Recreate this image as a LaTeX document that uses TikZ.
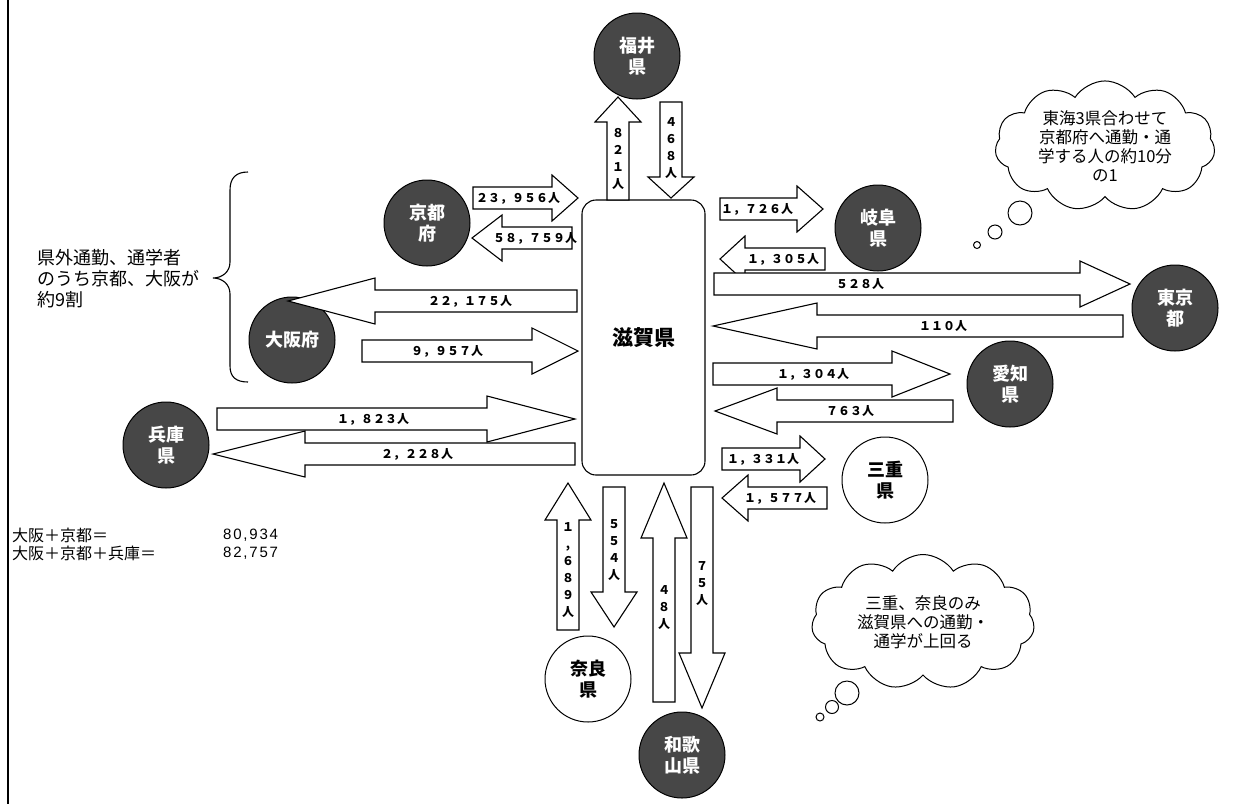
\documentclass[tikz,border=0pt]{standalone}
\usepackage{fontspec}
\setmainfont{Noto Sans CJK JP}
\newfontfamily\numfont[LetterSpace=12]{Liberation Sans}
\usetikzlibrary{shapes.symbols}

\def\shaft{11}   % half width of an arrow body
\def\headw{23}   % half width of an arrow head

% horizontal flow: tail x, head base x, tip x, centre y, label x, label, name
\newcommand{\flowh}[7]{%
  \draw[flow] (#1,#4-\shaft) -- (#2,#4-\shaft) -- (#2,#4-\headw) -- (#3,#4)
    -- (#2,#4+\headw) -- (#2,#4+\shaft) -- (#1,#4+\shaft) -- cycle;
  \node[lbl] (#7) at (#5,#4) {#6};}

% vertical flow: centre x, tail y, head base y, tip y, label y, label, name
\newcommand{\flowv}[7]{%
  \draw[flow] (#1-\shaft,#2) -- (#1-\shaft,#3) -- (#1-\headw,#3) -- (#1,#4)
    -- (#1+\headw,#3) -- (#1+\shaft,#3) -- (#1+\shaft,#2) -- cycle;
  \node[vlbl] (#7) at (#1,#5) {#6};}

\begin{document}
\begin{tikzpicture}[
  x=1pt, y=-1pt,
  pref/.style={circle, draw, line width=1pt, minimum size=86pt, inner sep=0pt,
    fill=black!72, text=white, align=center, font=\fontsize{18}{21}\selectfont\bfseries},
  prefw/.style={pref, fill=white, text=black},
  flow/.style={draw, line width=1.1pt, fill=white, line join=miter},
  lbl/.style={inner sep=0pt, font=\fontsize{12}{12}\selectfont\bfseries},
  vlbl/.style={lbl, align=center, font=\fontsize{12}{17}\selectfont\bfseries},
  note/.style={inner sep=0pt, align=left, font=\fontsize{18}{21}\selectfont},
  think/.style={cloud, draw, line width=1pt, fill=white, cloud puffs=11,
    cloud puff arc=115, aspect=1.8, inner sep=0pt, align=center,
    font=\fontsize{16.5}{19}\selectfont},
  bub/.style={draw, line width=1pt, fill=white},
]
\useasboundingbox (0,0) rectangle (1248,804);

% left margin line
\draw[line width=1.2pt] (8,0) -- (8,804);

% Shiga
\node[draw, line width=1.1pt, rounded corners=14pt, minimum width=123pt,
  minimum height=275pt, font=\fontsize{21}{21}\selectfont\bfseries] (shiga) at (643.5,337.5) {滋賀県};

% prefectures
\node[pref] (fukui) at (637,56) {福井\\県};
\node[pref] (kyoto) at (427,223) {京都\\府};
\node[pref] (osaka) at (292,340) {大阪府};
\node[pref] (hyogo) at (166,445) {兵庫\\県};
\node[pref] (gifu) at (878,228) {岐阜\\県};
\node[pref] (tokyo) at (1175,308) {東京\\都};
\node[pref] (aichi) at (1010,384) {愛知\\県};
\node[pref] (wakayama) at (682,755) {和歌\\山県};
\node[prefw] (mie) at (885,480) {三重\\県};
\node[prefw] (nara) at (588,679) {奈良\\県};

% ── flows west ──
\flowh{473}{552}{578}{198}{518}{２３，９５６人}{kyoOut}
\flowh{572}{502}{472}{238}{535}{５８，７５９人}{kyoIn}
\flowh{577}{375}{288}{301}{470}{２２，１７５人}{osaIn}
\flowh{362}{532}{578}{351}{447}{９，９５７人}{osaOut}
\flowh{217}{487}{575}{419}{373}{１，８２３人}{hyoOut}
\flowh{575}{305}{213}{454}{417}{２，２２８人}{hyoIn}

% ── flows east ──
\flowh{720}{797}{823}{209}{757}{１，７２６人}{gifOut}
\flowh{825}{745}{720}{259}{783}{１，３０５人}{gifIn}
\flowh{714}{1080}{1130}{284}{860}{５２８人}{tokOut}
\flowh{1123}{817}{713}{326}{943}{１１０人}{tokIn}
\flowh{713}{892}{950}{374}{813}{１，３０４人}{aicOut}
\flowh{953}{777}{715}{411}{850}{７６３人}{aicIn}
\flowh{722}{800}{825}{459}{763}{１，３３１人}{mieOut}
\flowh{827}{748}{722}{498}{780}{１，５７７人}{mieIn}

% ── flows north and south ──
\flowv{618}{200}{122}{97}{159}{８\\２\\１\\人}{fukOut}
\flowv{671}{102}{177}{198}{148}{４\\６\\８\\人}{fukIn}
\flowv{568}{630}{520}{483}{570}{１\\,\\６\\８\\９\\人}{narIn}
\flowv{614}{487}{592}{627}{550}{５\\５\\４\\人}{narOut}
\flowv{664}{702}{538}{483}{608}{４\\８\\人}{wakIn}
\flowv{702}{487}{653}{708}{584}{７\\５\\人}{wakOut}

% brace and notes
\draw[line width=1.1pt] (248,172) .. controls (236,172) and (230,178) .. (230,190)
  -- (230,262) .. controls (230,272) and (222,278) .. (213,278)
  .. controls (222,278) and (230,284) .. (230,294)
  -- (230,366) .. controls (230,377) and (236,382) .. (248,382);
\node[note, anchor=west] (share) at (37,279) {県外通勤、通学者\\のうち京都、大阪が\\約9割};
\node[note, anchor=west, font=\fontsize{16}{18}\selectfont] (sumtxt) at (12,544) {大阪＋京都＝\\大阪＋京都＋兵庫＝};
\node[note, anchor=west, font=\numfont\fontsize{15}{18}\selectfont] (sumnum) at (223,544) {80,934\\82,757};

% thought clouds
\node[think, minimum width=220pt, minimum height=122pt] (tokai) at (1105,146)
  {東海3県合わせて\\京都府へ通勤・通\\学する人の約10分\\の1};
\draw[bub] (1020,213) circle[radius=12pt];
\draw[bub] (995,232) circle[radius=7pt];
\draw[bub] (977,245) circle[radius=3.5pt];

\node[think, minimum width=223pt, minimum height=135pt] (minara) at (923,622)
  {三重、奈良のみ\\滋賀県への通勤・\\通学が上回る};
\draw[bub] (847,693) circle[radius=12pt];
\draw[bub] (832,707) circle[radius=6.5pt];
\draw[bub] (820,717) circle[radius=4pt];

\end{tikzpicture}
\end{document}
